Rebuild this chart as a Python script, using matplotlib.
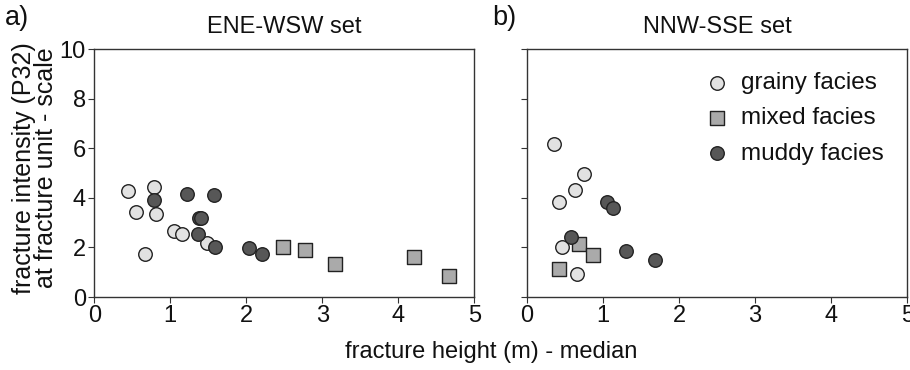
import numpy as np
import matplotlib
matplotlib.use("Agg")
import matplotlib.pyplot as plt

plt.rcParams['font.family'] = ['Liberation Sans', 'DejaVu Sans']

# panel a) ENE-WSW set
a_grainy_x = [0.44, 0.78, 0.55, 0.81, 1.05, 1.15, 1.48, 0.67]
a_grainy_y = [4.27, 4.44, 3.44, 3.33, 2.67, 2.56, 2.16, 1.73]
a_mixed_x = [2.48, 2.77, 3.17, 4.21, 4.67]
a_mixed_y = [2.03, 1.89, 1.32, 1.63, 0.83]
a_muddy_x = [0.78, 1.22, 1.58, 1.38, 1.41, 1.36, 1.59, 2.04, 2.20]
a_muddy_y = [3.91, 4.16, 4.11, 3.20, 3.20, 2.56, 2.03, 1.97, 1.73]

# panel b) NNW-SSE set
b_grainy_x = [0.36, 0.75, 0.64, 0.42, 0.47, 0.66]
b_grainy_y = [6.16, 4.96, 4.31, 3.84, 2.00, 0.93]
b_mixed_x = [0.69, 0.87, 0.43]
b_mixed_y = [2.13, 1.71, 1.11]
b_muddy_x = [0.58, 1.05, 1.14, 1.30, 1.68]
b_muddy_y = [2.43, 3.84, 3.60, 1.84, 1.49]

titles = ['ENE-WSW set', 'NNW-SSE set']

grainy_col = '#e2e2e2'
mixed_col = '#aaaaaa'
muddy_col = '#575757'
edge = '#222222'

fig = plt.figure(figsize=(9.1, 3.7), dpi=100)
ax1 = fig.add_axes([94.3 / 910, 1 - 297 / 370, 380 / 910, 248 / 370])
ax2 = fig.add_axes([526.7 / 910, 1 - 297 / 370, 380.6 / 910, 248 / 370])

data = [
    (a_grainy_x, a_grainy_y, a_mixed_x, a_mixed_y, a_muddy_x, a_muddy_y),
    (b_grainy_x, b_grainy_y, b_mixed_x, b_mixed_y, b_muddy_x, b_muddy_y),
]

for ax, d, title in zip([ax1, ax2], data, titles):
    gx, gy, mx, my, dx, dy = d
    ax.scatter(gx, gy, s=95, marker='o', facecolor=grainy_col, edgecolor=edge,
               linewidth=1.0, label='grainy facies', zorder=3)
    ax.scatter(mx, my, s=95, marker='s', facecolor=mixed_col, edgecolor=edge,
               linewidth=1.0, label='mixed facies', zorder=3)
    ax.scatter(dx, dy, s=95, marker='o', facecolor=muddy_col, edgecolor=edge,
               linewidth=1.0, label='muddy facies', zorder=3)
    ax.set_xlim(0, 5)
    ax.set_ylim(0, 10)
    ax.set_xticks(range(0, 6))
    ax.set_yticks(range(0, 11, 2))
    ax.tick_params(direction='out', length=4, width=0.8, colors='#333333',
                   labelcolor='#111111', labelsize=17, pad=2)
    for s in ax.spines.values():
        s.set_color('#333333')
        s.set_linewidth(1.0)
    ax.set_title(title, fontsize=17, pad=11.5, color='#111111')

ax2.set_yticklabels([])

fig.text(35 / 910, 1 - 168 / 370,
         'fracture intensity (P32)\nat fracture unit - scale',
         fontsize=18, rotation=90, ha='center', va='center',
         multialignment='center', linespacing=0.9, color='#111111')
fig.text(491 / 910, 1 - 352 / 370, 'fracture height (m) - median', fontsize=17,
         ha='center', va='center', color='#111111')

fig.text(5 / 910, 1 - 5 / 370, 'a)', fontsize=19.5, ha='left', va='top',
         color='#111111')
fig.text(492 / 910, 1 - 5 / 370, 'b)', fontsize=19.5, ha='left', va='top',
         color='#111111')

ax2.legend(loc='upper right', frameon=False, fontsize=17.5, handletextpad=0.5,
           handlelength=1.0, labelspacing=0.55, borderaxespad=0.55,
           scatterpoints=1, labelcolor='#111111')

fig.savefig('out.png', dpi=100)
